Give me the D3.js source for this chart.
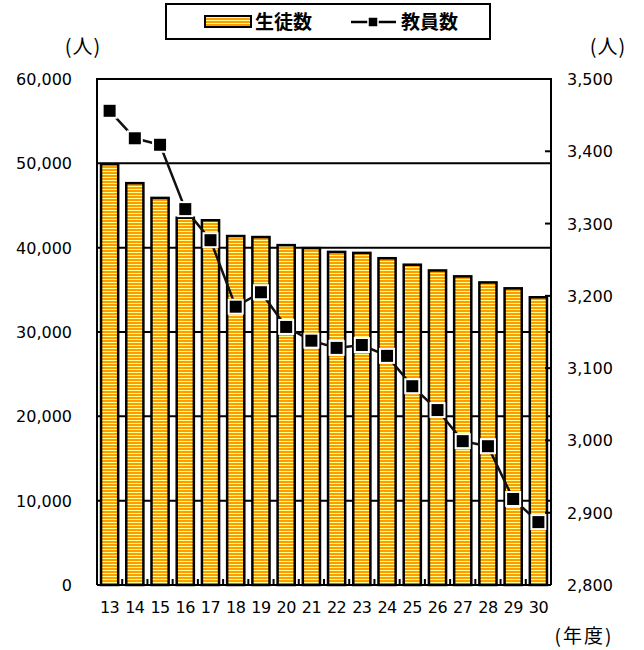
<!DOCTYPE html>
<html>
<head>
<meta charset="utf-8">
<script src="https://cdn.jsdelivr.net/npm/d3@7"></script>
<style>
  body { margin: 0; background: #fff; }
  svg text { font-family: "DejaVu Sans", sans-serif; fill: #000; }
  .jp { font-family: "Noto Sans CJK JP", sans-serif; }
</style>
</head>
<body>
<div id="chart"></div>
<script>
// 年度 (categories)
var years = ["13","14","15","16","17","18","19","20","21","22","23","24","25","26","27","28","29","30"];
// 生徒数 (bars, left axis)
var students = [49900,47650,45900,43550,43250,41380,41260,40300,39950,39500,39380,38750,37980,37300,36600,35880,35180,34120];
// 教員数 (line, right axis)
var teachers = [3456,3418,3409,3320,3277,3185,3205,3157,3138,3128,3132,3117,3075,3042,2999,2992,2919,2887];
// tick values
var leftTicks = [0,10000,20000,30000,40000,50000,60000];
var rightTicks = [2800,2900,3000,3100,3200,3300,3400,3500];

// SVG setup
var svgWidth = 644, svgHeight = 650;
var margin = { top: 79, right: 93, bottom: 65, left: 97 };
var width = svgWidth - margin.left - margin.right;
var height = svgHeight - margin.top - margin.bottom;

var svg = d3.select("#chart").append("svg")
    .attr("width", svgWidth)
    .attr("height", svgHeight);

// stripe pattern for bars
var defs = svg.append("defs");
var pat = defs.append("pattern")
    .attr("id", "stripes")
    .attr("patternUnits", "userSpaceOnUse")
    .attr("width", 4).attr("height", 3);
pat.append("rect").attr("width", 4).attr("height", 3).attr("fill", "#ff9c00");
pat.append("rect").attr("y", 2).attr("width", 4).attr("height", 1).attr("fill", "#ffff90");

var g = svg.append("g").attr("transform", `translate(${margin.left},${margin.top})`);

// scales
var x = d3.scaleBand().domain(years).range([0, width]).paddingInner(0.32).paddingOuter(0.16);
var yL = d3.scaleLinear().domain([0, 60000]).range([height, 0]);
var yR = d3.scaleLinear().domain([2800, 3500]).range([height, 0]);

// gridlines
g.selectAll(".grid").data(leftTicks.slice(1, -1)).enter().append("line")
    .attr("x1", 0).attr("x2", width)
    .attr("y1", d => yL(d)).attr("y2", d => yL(d))
    .attr("stroke", "#000").attr("stroke-width", 2);

// bars
g.selectAll(".bar").data(students).enter().append("rect")
    .attr("x", (d, i) => x(years[i]))
    .attr("y", d => yL(d))
    .attr("width", x.bandwidth())
    .attr("height", d => height - yL(d))
    .attr("fill", "url(#stripes)")
    .attr("stroke", "#000").attr("stroke-width", 2.5);

// frame
g.append("path")
    .attr("d", `M0,${height}V0H${width}V${height}`)
    .attr("fill", "none").attr("stroke", "#000").attr("stroke-width", 2);
g.append("line").attr("x1", 0).attr("x2", width).attr("y1", height).attr("y2", height)
    .attr("stroke", "#000").attr("stroke-width", 2);

// bottom ticks (inside, between bands)
g.selectAll(".xt").data(d3.range(1, years.length)).enter().append("line")
    .attr("x1", d => d * width / years.length).attr("x2", d => d * width / years.length)
    .attr("y1", height).attr("y2", height - 6)
    .attr("stroke", "#000").attr("stroke-width", 2);

// right ticks (inside)
g.selectAll(".rt").data(rightTicks).enter().append("line")
    .attr("x1", width - 6).attr("x2", width)
    .attr("y1", d => yR(d)).attr("y2", d => yR(d))
    .attr("stroke", "#000").attr("stroke-width", 2);

// line
var line = d3.line()
    .x((d, i) => x(years[i]) + x.bandwidth() / 2)
    .y(d => yR(d));
g.append("path").datum(teachers)
    .attr("d", line)
    .attr("fill", "none").attr("stroke", "#111").attr("stroke-width", 2.5);

g.selectAll(".mk").data(teachers).enter().append("rect")
    .attr("x", (d, i) => x(years[i]) + x.bandwidth() / 2 - 7)
    .attr("y", d => yR(d) - 7)
    .attr("width", 14).attr("height", 14)
    .attr("fill", "#000").attr("stroke", "#fff").attr("stroke-width", 2);

// left tick labels
g.selectAll(".ll").data(leftTicks).enter().append("text")
    .attr("x", -25).attr("y", d => yL(d) + 6)
    .attr("text-anchor", "end")
    .style("font-size", "16px")
    .text(d => d3.format(",")(d));

// right tick labels
g.selectAll(".rl").data(rightTicks).enter().append("text")
    .attr("x", width + 16).attr("y", d => yR(d) + 6)
    .attr("text-anchor", "start")
    .style("font-size", "16px")
    .text(d => d3.format(",")(d));

// x labels
g.selectAll(".xl").data(years).enter().append("text")
    .attr("x", d => x(d) + x.bandwidth() / 2)
    .attr("y", height + 28)
    .attr("text-anchor", "middle")
    .style("font-size", "16px").style("letter-spacing", "-0.5px")
    .text(d => d);

// unit labels
svg.append("text").attr("class", "jp").attr("x", 83).attr("y", 54)
    .attr("text-anchor", "middle").style("font-size", "20px").style("letter-spacing", "1px").text("(人)");
svg.append("text").attr("class", "jp").attr("x", 608).attr("y", 54)
    .attr("text-anchor", "middle").style("font-size", "20px").style("letter-spacing", "1px").text("(人)");
svg.append("text").attr("class", "jp").attr("x", 584).attr("y", 643)
    .attr("text-anchor", "middle").style("font-size", "19px").style("letter-spacing", "2px").text("(年度)");

// legend
var lg = svg.append("g");
lg.append("rect").attr("x", 166).attr("y", 4).attr("width", 324).attr("height", 35)
    .attr("fill", "#fff").attr("stroke", "#000").attr("stroke-width", 2);
lg.append("rect").attr("x", 205).attr("y", 16).attr("width", 46).attr("height", 11)
    .attr("fill", "url(#stripes)").attr("stroke", "#000").attr("stroke-width", 2);
lg.append("text").attr("class", "jp").attr("x", 255).attr("y", 29)
    .style("font-size", "19px").style("font-weight", "bold").text("生徒数");
lg.append("line").attr("x1", 351).attr("x2", 396).attr("y1", 22).attr("y2", 22)
    .attr("stroke", "#000").attr("stroke-width", 2.5);
lg.append("rect").attr("x", 368).attr("y", 17).attr("width", 10).attr("height", 10)
    .attr("fill", "#000").attr("stroke", "#fff").attr("stroke-width", 1.5);
lg.append("text").attr("class", "jp").attr("x", 401).attr("y", 29)
    .style("font-size", "19px").style("font-weight", "bold").text("教員数");
</script>
</body>
</html>
